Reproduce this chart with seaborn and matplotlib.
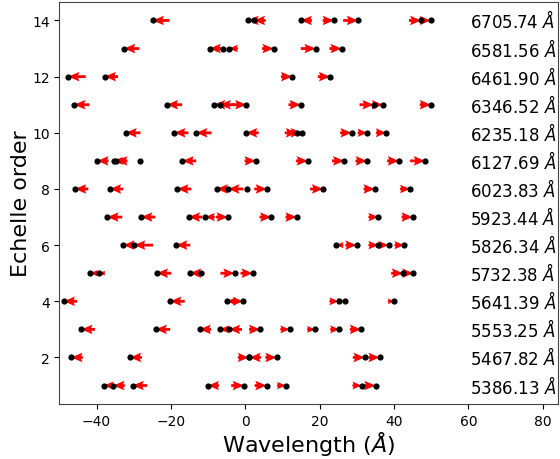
import matplotlib
matplotlib.use("Agg")
import matplotlib.pyplot as plt
import pandas as pd
import seaborn as sns

# Echelle orders and the central wavelength of each order
orders = list(range(1, 15))
central_wavelengths = [5386.13, 5467.82, 5553.25, 5641.39, 5732.38, 5826.34, 5923.44,
                       6023.83, 6127.69, 6235.18, 6346.52, 6461.90, 6581.56, 6705.74]

# Line positions relative to the order centre (Angstrom), one list per order
line_offsets = [
    [-38.0, -35.5, -30.3, -10.0, -0.4, 5.7, 10.9, 31.3, 35.0],
    [-46.8, -31.0, 0.9, 1.1, 8.4, 32.1, 36.1],
    [-44.1, -24.1, -12.3, -6.9, -4.4, 4.0, 11.9, 18.8, 25.3, 31.1],
    [-48.8, -20.2, -5.0, -0.6, 25.1, 26.7, 40.1],
    [-41.7, -39.3, -23.8, -14.9, -12.0, -2.9, 2.0, 42.4, 45.2],
    [-32.8, -29.9, -18.6, 24.4, 29.9, 35.8, 38.5, 42.7],
    [-37.1, -28.0, -15.2, -10.8, -4.7, 7.0, 13.8, 35.8, 45.0],
    [-45.8, -36.4, -18.3, -7.7, -4.6, 0.5, 5.8, 20.9, 34.8, 44.3],
    [-39.8, -35.4, -34.7, -28.3, -16.9, 2.8, 16.8, 26.6, 32.7, 41.3, 48.3],
    [-32.2, -19.1, -13.2, 0.2, 13.9, 15.2, 28.6, 32.8, 37.9],
    [-46.0, -21.1, -8.4, -6.9, 0.3, 14.9, 34.5, 37.0, 49.9],
    [-47.6, -37.8, 12.6, 22.8],
    [-32.6, -9.6, -6.0, -4.4, 7.6, 18.9, 25.9],
    [-24.9, 0.6, 2.3, 14.9, 23.8, 30.3, 47.3, 49.8],
]

# Shift of each line (Angstrom); the arrow ends on the line position
line_shifts = [
    [-2.6, -3.1, -3.9, -2.9, 3.4, 3.2, 2.4, 2.5, 3.0],
    [-3.1, -3.2, 2.9, -3.1, 3.0, 3.2, 3.0],
    [-3.7, -3.9, -3.1, -2.5, -3.5, 3.0, 2.5, 2.2, 2.5, 3.0],
    [-3.6, -3.9, -2.5, 2.8, 2.5, 2.0, 1.8],
    [-2.0, -1.6, -3.9, -3.2, -1.0, 3.8, 3.3, 3.2, 3.1],
    [-3.0, -5.1, -3.8, -2.0, 3.0, 2.7, 2.7, 2.6],
    [-4.0, -3.8, -3.6, -2.6, 3.2, 3.2, 3.0, 2.7, 3.0],
    [-3.6, -3.6, -3.8, -3.2, -4.1, 0.0, 3.4, 3.5, 3.0, 2.7],
    [-3.0, -2.5, -3.0, 0.0, -3.7, 3.0, 3.2, 3.3, 3.1, 3.2, 4.0],
    [-4.0, -3.8, -4.1, -3.4, 3.3, 3.1, 3.1, 2.6, 2.8],
    [-4.1, -4.1, -3.0, -4.0, 4.0, 3.3, 3.8, 3.0, 3.0],
    [-4.7, -3.6, 3.0, 3.3],
    [-4.1, -3.0, 2.0, -2.4, 3.1, 4.0, 3.3],
    [-4.5, -3.0, -3.2, -3.0, 3.0, 4.0, 3.3, 2.9],
]

records = []
for order, offsets, shifts in zip(orders, line_offsets, line_shifts):
    for x, d in zip(offsets, shifts):
        records.append((order, x, d))
lines = pd.DataFrame(records, columns=["order", "offset", "shift"])

sns.set_style("ticks")
plt.rcParams["font.family"] = ["DejaVu Sans"]
plt.rcParams["text.color"] = "black"
plt.rcParams["axes.labelcolor"] = "black"

fig = plt.figure(figsize=(5.6, 4.6), dpi=100)
ax = fig.add_axes([0.106, 0.12, 0.890, 0.873])

moved = lines[lines["shift"] != 0]
ax.quiver(moved["offset"] - moved["shift"], moved["order"],
          moved["shift"], 0 * moved["shift"],
          angles="xy", scale_units="xy", scale=1,
          color="red", units="dots", width=2.8,
          headwidth=3.4, headlength=4.0, headaxislength=3.5, zorder=2)

sns.scatterplot(data=lines, x="offset", y="order", color="black", s=20,
                linewidth=0, ax=ax, zorder=3)

for order, wl in zip(orders, central_wavelengths):
    ax.text(60.4, order, f"{wl:.2f} $\\AA$", fontsize=12, va="center", ha="left",
            color="black")

ax.set_xlim(-50, 84)
ax.set_ylim(0.35, 14.65)
ax.set_xticks(range(-40, 81, 20))
ax.set_yticks(range(2, 15, 2))
ax.tick_params(labelsize=10, colors="black")
ax.set_xlabel("Wavelength ($\\AA$)", fontsize=16, labelpad=1)
ax.set_ylabel("Echelle order", fontsize=16, labelpad=1)
for spine in ax.spines.values():
    spine.set_color("#444444")

fig.savefig("out.png", dpi=100)
